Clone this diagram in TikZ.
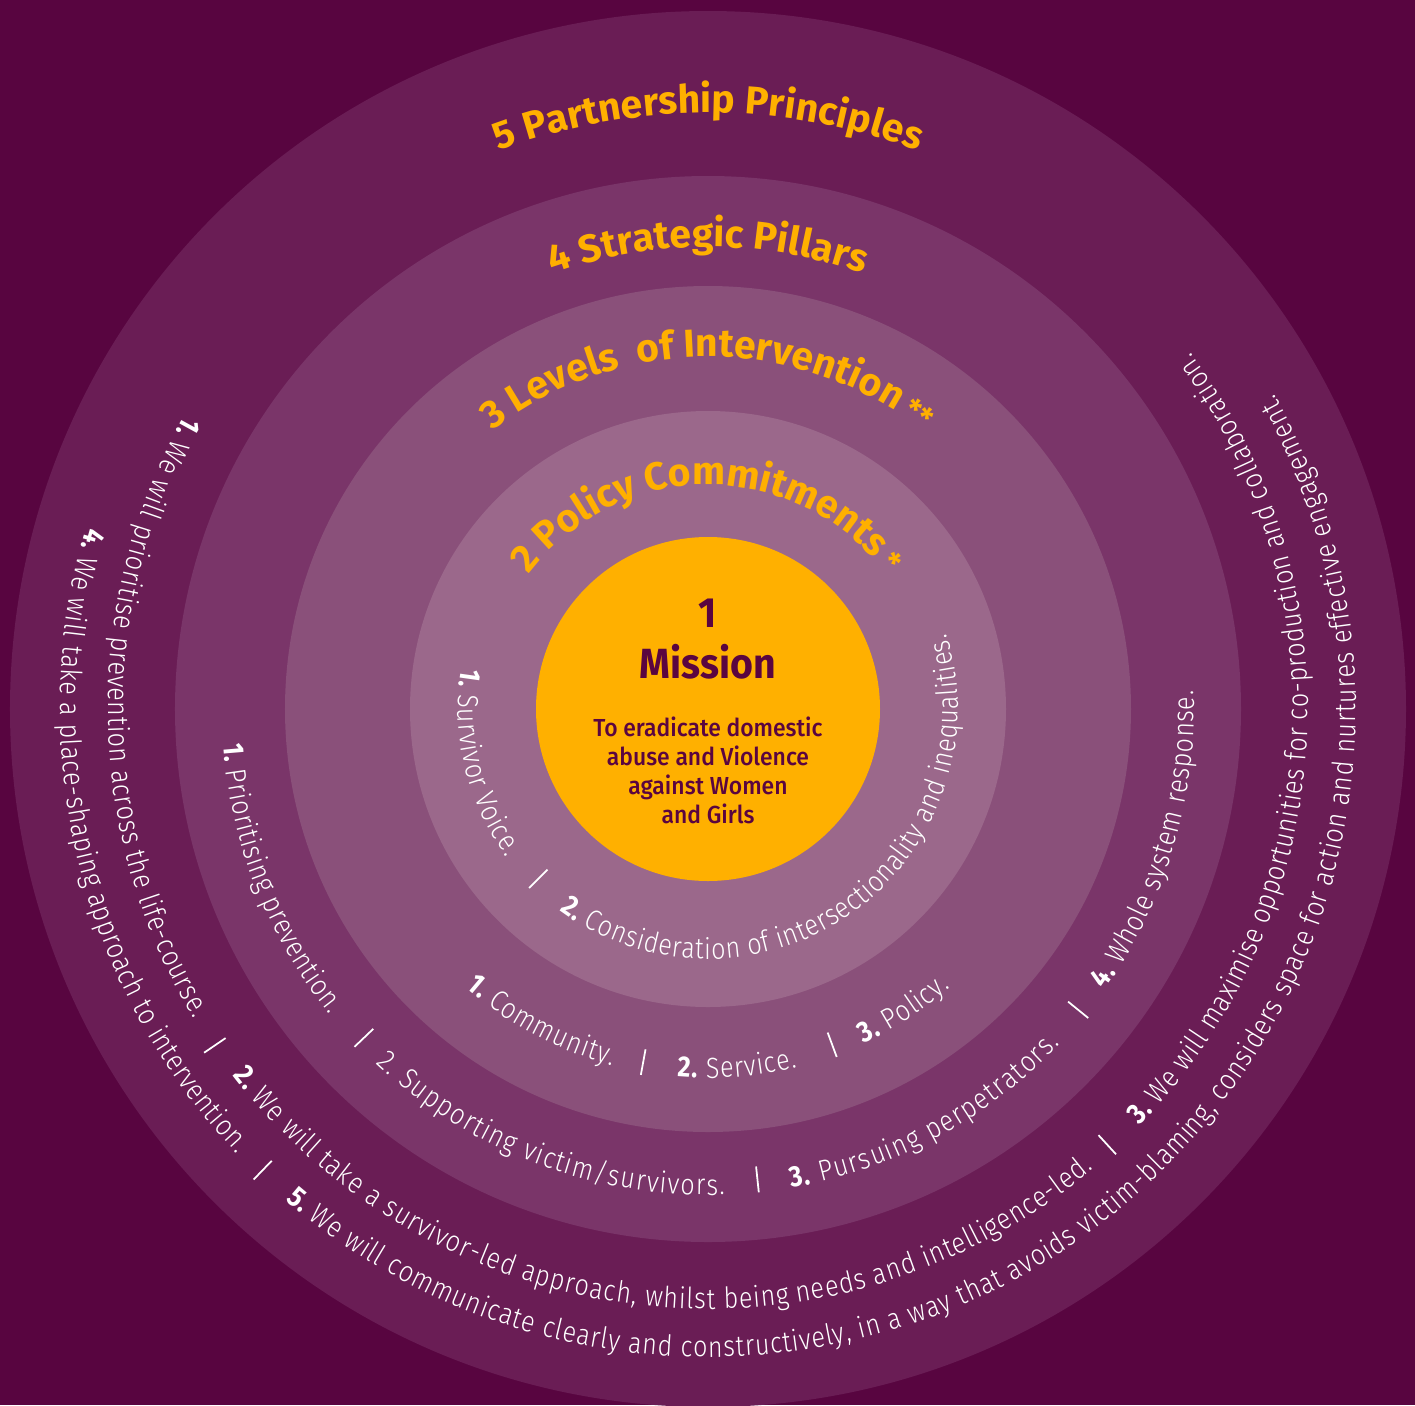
\documentclass[tikz,border=0pt]{standalone}
\usepackage{fontspec}
\setmainfont{Fira Sans Light}[FakeStretch=0.86, BoldFont={Fira Sans Bold}]
\newfontfamily\headfamily{Fira Sans}
\newfontfamily\missionfamily{Fira Sans}[FakeStretch=0.93]
\newfontfamily\aimfamily{Fira Sans Medium}[FakeStretch=0.93]
\usetikzlibrary{decorations.text}

\definecolor{bgplum}{RGB}{88,5,64}
\definecolor{ringfive}{RGB}{106,29,85}
\definecolor{ringfour}{RGB}{122,53,105}
\definecolor{ringthree}{RGB}{138,80,122}
\definecolor{ringtwo}{RGB}{155,104,139}
\definecolor{amber}{RGB}{255,176,0}
\definecolor{plumtext}{RGB}{90,5,64}

\newcommand{\bodyfont}{\fontsize{8.3}{10}\selectfont}
\newcommand{\numfont}{\fontsize{8.3}{10}\selectfont\bfseries}
\newcommand{\headfont}{\headfamily\fontsize{11.1}{13}\selectfont\bfseries}
\newcommand{\starfont}{\headfamily\fontsize{8.5}{10}\selectfont\bfseries}

\tikzset{
  ringtext/.style={decorate, decoration={text along path, text color=white,
      text format delimiters={[}{]}, text align=fit to path}},
  headtext/.style={decorate, decoration={text along path, text color=amber,
      text format delimiters={[}{]}, text align=center}},
  sepline/.style={draw=white, line width=0.5pt},
  missionhead/.style={font=\missionfamily\fontsize{12}{14}\selectfont\bfseries, text=plumtext, anchor=base, inner sep=0pt},
  missionbody/.style={font=\aimfamily\fontsize{7}{8.3}\selectfont, text=plumtext, align=center, inner sep=0pt},
}

\begin{document}
\begin{tikzpicture}[x=0.01cm, y=0.01cm]
	\useasboundingbox (-708,-696) rectangle (707,709);
	\fill [bgplum] (-708,-696) rectangle (707,709);
	\fill [ringfive] (0,0) circle [radius=698];
	\fill [ringfour] (0,0) circle [radius=533];
	\fill [ringthree] (0,0) circle [radius=423];
	\fill [ringtwo] (0,0) circle [radius=298];
	\fill [amber] (0,0) circle [radius=172];
	% ring titles
	\path [headtext, decoration={text={[\headfont]5 Partnership Principles}}] (150:596) arc [start angle=150, end angle=30, radius=596];
	\path [headtext, decoration={text={[\headfont]4 Strategic Pillars}}] (150:462) arc [start angle=150, end angle=30, radius=462];
	\path [headtext, decoration={text={[\headfont]3 Levels{\ } of Intervention[\starfont] **}}] (160:352) arc [start angle=160, end angle=20, radius=352];
	\path [headtext, decoration={text={[\headfont]2 Policy Commitments[\starfont] *}}] (170:224) arc [start angle=170, end angle=10, radius=224];
	% mission
	\node [missionhead] (num) at (0,82) {1};
	\node [missionhead] (mission) at (0,31) {Mission};
	\node [missionbody, anchor=north] (aim) at (0,-7) {To eradicate domestic\\abuse and Violence\\against Women\\and Girls};
	% policy commitments
	\path [ringtext, decoration={text={[\numfont]1.[\bodyfont] Survivor Voice.}}] (170.6:250) arc [start angle=170.6, end angle=216.5, radius=250];
	\path [ringtext, decoration={text={[\numfont]2.[\bodyfont] Consideration of intersectionality and inequalities.}}] (233.6:250) arc [start angle=233.6, end angle=377.6, radius=250];
	\draw [sepline] (225:227) -- (225:253);
	% levels of intervention
	\path [ringtext, decoration={text={[\numfont]1.[\bodyfont] Community.}}] (229:369) arc [start angle=229, end angle=255, radius=369];
	\path [ringtext, decoration={text={[\numfont]2.[\bodyfont] Service.}}] (265.2:369) arc [start angle=265.2, end angle=284, radius=369];
	\path [ringtext, decoration={text={[\numfont]3.[\bodyfont] Policy.}}] (295:369) arc [start angle=295, end angle=311, radius=369];
	\draw [sepline] (259.6:346) -- (259.6:372);
	\draw [sepline] (290.3:345) -- (290.3:371);
	% strategic pillars
	\path [ringtext, decoration={text={[\numfont]1.[\bodyfont] Prioritising prevention.}}] (184.2:486) arc [start angle=184.2, end angle=219, radius=486];
	\path [ringtext, decoration={text={[\bodyfont]2. Supporting victim/survivors.}}] (226.9:486) arc [start angle=226.9, end angle=272, radius=486];
	\path [ringtext, decoration={text={[\numfont]3.[\bodyfont] Pursuing perpetrators.}}] (279.9:486) arc [start angle=279.9, end angle=316.5, radius=486];
	\path [ringtext, decoration={text={[\numfont]4.[\bodyfont] Whole system response.}}] (324.7:486) arc [start angle=324.7, end angle=362.2, radius=486];
	\draw [sepline] (223.7:463) -- (223.7:489);
	\draw [sepline] (276:460) -- (276:486);
	\draw [sepline] (320.9:464) -- (320.9:490);
	% partnership principles
	\path [ringtext, decoration={text={[\numfont]1.[\bodyfont] We will prioritise prevention across the life-course.}}] (150.7:600) arc [start angle=150.7, end angle=211, radius=600];
	\path [ringtext, decoration={text={[\numfont]2.[\bodyfont] We will take a survivor-led approach, whilst being needs and intelligence-led.}}] (217.6:600) arc [start angle=217.6, end angle=310, radius=600];
	\path [ringtext, decoration={text={[\numfont]3.[\bodyfont] We will maximise opportunities for co-production and collaboration.}}] (316:600) arc [start angle=316, end angle=396.3, radius=600];
	\draw [sepline] (214.3:584) -- (214.3:610);
	\draw [sepline] (312.5:578) -- (312.5:604);
	\path [ringtext, decoration={text={[\numfont]4.[\bodyfont] We will take a place-shaping approach to intervention.}}] (163.7:648) arc [start angle=163.7, end angle=223.3, radius=648];
	\path [ringtext, decoration={text={[\numfont]5.[\bodyfont] We will communicate clearly and constructively, in a way that avoids victim-blaming, considers space for action and nurtures effective engagement.}}] (229.3:648) arc [start angle=229.3, end angle=389, radius=648];
	\draw [sepline] (226:628) -- (226:654);
\end{tikzpicture}
\end{document}
